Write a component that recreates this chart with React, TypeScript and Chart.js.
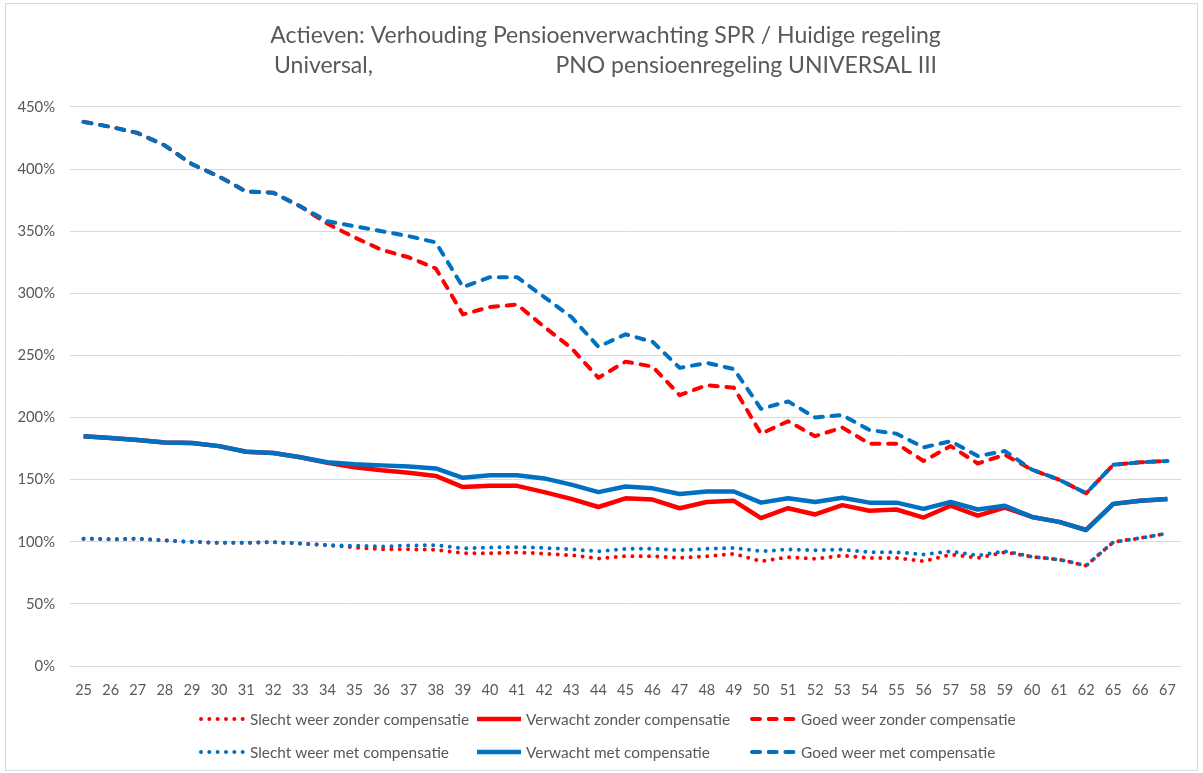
import React, { useEffect, useRef } from 'react';
import { Chart, registerables } from 'chart.js';

Chart.register(...registerables);

// ---------- data ----------
const categories = [
  '25', '26', '27', '28', '29', '30', '31', '32', '33', '34', '35', '36', '37', '38',
  '39', '40', '41', '42', '43', '44', '45', '46', '47', '48', '49', '50', '51', '52',
  '53', '54', '55', '56', '57', '58', '59', '60', '61', '62', '65', '66', '67',
];

const slechtZonder = [
  102.5, 102, 102.5, 101, 100, 99.2, 99.2, 99.7, 98.6, 97.3, 95.4, 94, 94, 93.5,
  90.8, 90.8, 91.4, 90.5, 89.2, 86.5, 88.4, 88.4, 87, 88.4, 90.3, 84.3, 87.6, 86.2,
  89, 87, 87, 84.3, 89.7, 87, 91.6, 88, 85.7, 80.8, 99.7, 103, 106.8,
];
const verwachtZonder = [
  185, 183.5, 182, 180, 179.5, 177, 172.5, 171.5, 168, 163.5, 160, 157.5, 155.5, 153,
  144, 145, 145, 140, 134.5, 128, 135, 134, 127, 132, 133, 119, 127, 122,
  129.5, 125, 126, 119.5, 129, 121, 127.5, 120, 116, 109.5, 130.5, 133, 134.5,
];
const goedZonder = [
  438, 434, 429, 419, 404, 394, 382, 381, 370, 356, 345, 335, 329, 320,
  283, 289, 291, 273, 256, 232, 245, 241, 218, 226, 224, 187, 197, 185,
  192, 179, 179, 165, 177, 163, 170, 158, 150, 139, 162, 164, 165,
];
const slechtMet = [
  102.5, 102, 102.5, 101, 100, 99.2, 99.2, 99.7, 98.6, 97.3, 96.8, 96.2, 97, 97.3,
  94.6, 95.4, 95.7, 95.1, 94, 92.2, 94.3, 94.3, 93.2, 94.3, 95, 92.4, 93.8, 93.2,
  93.8, 91.6, 91.6, 89.7, 92.4, 89, 92.4, 88, 85.7, 80.8, 99.7, 103, 106.8,
];
const verwachtMet = [
  185, 183.5, 182, 180, 179.5, 177, 172.5, 171.5, 168, 164, 162.5, 161.5, 160.5, 159,
  151.5, 153.5, 153.5, 151, 146, 140, 144.5, 143, 138.5, 140.5, 140.5, 131.5, 135, 132,
  135.5, 131.5, 131.5, 126.5, 132, 126, 129, 120, 116, 109.5, 130.5, 133, 134.5,
];
const goedMet = [
  438, 434, 429, 419, 404, 394, 382, 381, 370, 358, 354, 350, 346, 341,
  305, 313, 313, 297, 281, 257, 267, 261, 240, 244, 239, 207, 213, 200,
  202, 190, 187, 176, 181, 169, 173, 158, 150, 139, 162, 164, 165,
];

const seriesLabels = [
  'Slecht weer zonder compensatie',
  'Verwacht zonder compensatie',
  'Goed weer zonder compensatie',
  'Slecht weer met compensatie',
  'Verwacht met compensatie',
  'Goed weer met compensatie',
];

const titleLine1 = 'Actieven: Verhouding Pensioenverwachting SPR / Huidige regeling';
const titleLine2a = 'Universal,';
const titleLine2b = 'PNO pensioenregeling UNIVERSAL III';

const yMin = 0;
const yMax = 450;
const yStep = 50;

// ---------- styles ----------
const RED = '#FF0000';
const BLUE = '#0070C0';
const TEXT = '#595959';
const GRID = '#D9D9D9';
const FONT = 'Lato, "Open Sans", sans-serif';

type Style = 'dot' | 'solid' | 'dash';

function makeDataset(label: string, data: number[], color: string, style: Style, order: number) {
  return {
    label,
    data,
    borderColor: color,
    backgroundColor: color,
    borderWidth: style === 'solid' ? 4.5 : 4,
    borderDash: style === 'dot' ? [0, 8.33] : style === 'dash' ? [8, 8.7] : [],
    borderCapStyle: style === 'solid' ? 'butt' : 'round',
    borderJoinStyle: 'round',
    pointRadius: 0,
    pointHoverRadius: 0,
    tension: 0,
    fill: false,
    order,
  };
}

const gridLegend = {
  id: 'gridLegend',
  afterDraw(chart: any) {
    const ctx = chart.ctx as CanvasRenderingContext2D;
    const colX = [199, 475, 750];
    const rowY = [719, 752];
    chart.data.datasets.forEach((ds: any, i: number) => {
      const x = colX[i % 3];
      const y = rowY[Math.floor(i / 3)];
      ctx.save();
      ctx.strokeStyle = ds.borderColor;
      ctx.lineWidth = ds.borderWidth;
      ctx.lineCap = ds.borderCapStyle;
      ctx.setLineDash(ds.borderDash || []);
      ctx.beginPath();
      ctx.moveTo(x + 2, y);
      ctx.lineTo(x + 46, y);
      ctx.stroke();
      ctx.setLineDash([]);
      ctx.fillStyle = TEXT;
      ctx.font = `15.4px ${FONT}`;
      ctx.textBaseline = 'middle';
      ctx.textAlign = 'left';
      ctx.fillText(ds.label, x + 51, y + 1);
      ctx.restore();
    });
  },
};

export default function App() {
  const ref = useRef<HTMLCanvasElement>(null);

  useEffect(() => {
    if (!ref.current) return;
    const config: any = {
      type: 'line',
      data: {
        labels: categories,
        datasets: [
          makeDataset(seriesLabels[0], slechtZonder, RED, 'dot', 1),
          makeDataset(seriesLabels[1], verwachtZonder, RED, 'solid', 1),
          makeDataset(seriesLabels[2], goedZonder, RED, 'dash', 1),
          makeDataset(seriesLabels[3], slechtMet, BLUE, 'dot', 0),
          makeDataset(seriesLabels[4], verwachtMet, BLUE, 'solid', 0),
          makeDataset(seriesLabels[5], goedMet, BLUE, 'dash', 0),
        ],
      },
      options: {
        responsive: false,
        animation: false,
        devicePixelRatio: 1,
        events: [],
        layout: { padding: { left: 8, right: 0, top: 0, bottom: 73 } },
        plugins: {
          legend: { display: false },
          tooltip: { enabled: false },
          title: {
            display: true,
            text: [titleLine1, titleLine2a + ' '.repeat(31) + titleLine2b],
            color: TEXT,
            font: { family: FONT, size: 23, weight: 'normal', lineHeight: 1.304 },
            padding: { top: 21, bottom: 26 },
          },
        },
        scales: {
          x: {
            type: 'category',
            offset: true,
            grid: { display: false, drawTicks: false },
            border: { display: false },
            ticks: {
              color: TEXT,
              font: { family: FONT, size: 14.5 },
              padding: 16,
              autoSkip: false,
              maxRotation: 0,
              minRotation: 0,
            },
            afterFit: (s: any) => { s.height = 34; },
          },
          y: {
            min: yMin,
            max: yMax,
            grid: { color: GRID, lineWidth: 1, drawTicks: false },
            border: { display: false },
            ticks: {
              stepSize: yStep,
              color: TEXT,
              font: { family: FONT, size: 14.8 },
              padding: 15,
              callback: (v: any) => `${v}%`,
            },
            afterFit: (s: any) => { s.width = 62; },
          },
          yR: {
            position: 'right',
            display: true,
            grid: { display: false, drawTicks: false },
            border: { display: false },
            ticks: { display: false },
            afterFit: (s: any) => { s.width = 22; },
          },
        },
      },
      plugins: [gridLegend],
    };
    const chart = new Chart(ref.current, config);
    let alive = true;
    const fonts: any = (document as any).fonts;
    if (fonts && fonts.load) {
      Promise.all([fonts.load(`14px Lato`), fonts.load(`23px Lato`)])
        .then(() => { if (alive) chart.update(); })
        .catch(() => {});
    }
    return () => {
      alive = false;
      chart.destroy();
    };
  }, []);

  return (
    <div style={{ position: 'fixed', left: 0, top: 0, width: 1203, height: 773, background: '#fff' }}>
      <canvas ref={ref} width={1203} height={773} style={{ display: 'block', width: 1203, height: 773 }} />
      <div
        style={{
          position: 'absolute', left: 5, top: 3, width: 1191, height: 766,
          border: '1px solid #D9D9D9', pointerEvents: 'none',
        }}
      />
    </div>
  );
}
